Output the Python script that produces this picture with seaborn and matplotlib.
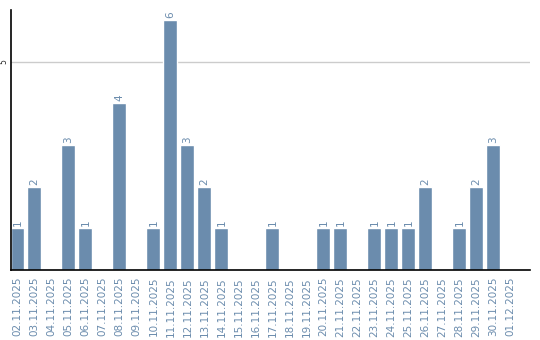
import matplotlib
matplotlib.use("Agg")
import matplotlib.pyplot as plt
import seaborn as sns
import pandas as pd

dates = ["02.11.2025", "03.11.2025", "04.11.2025", "05.11.2025", "06.11.2025",
         "07.11.2025", "08.11.2025", "09.11.2025", "10.11.2025", "11.11.2025",
         "12.11.2025", "13.11.2025", "14.11.2025", "15.11.2025", "16.11.2025",
         "17.11.2025", "18.11.2025", "19.11.2025", "20.11.2025", "21.11.2025",
         "22.11.2025", "23.11.2025", "24.11.2025", "25.11.2025", "26.11.2025",
         "27.11.2025", "28.11.2025", "29.11.2025", "30.11.2025", "01.12.2025"]
counts = [1, 2, 0, 3, 1, 0, 4, 0, 1, 6, 3, 2, 1, 0, 0,
          1, 0, 0, 1, 1, 0, 1, 1, 1, 2, 0, 1, 2, 3, 0]
y_ticks = [5]

df = pd.DataFrame({"date": dates, "count": counts})
color = "#6b8cad"

sns.set_style("white")
fig = plt.figure(figsize=(5.4, 3.4), dpi=100)
ax = fig.add_axes([10.5/540, 70/340, 519.5/540, 260/340])
sns.barplot(data=df, x="date", y="count", color=color, saturation=1, width=0.82, ax=ax)

ax.set_xlim(-0.41, 30.15)
ax.set_ylim(0, 6.24)
ax.set_yticks(y_ticks)
ax.set_yticklabels([str(v) for v in y_ticks], rotation=90, fontsize=5.5, va="center")
ax.yaxis.grid(True, color="#cccccc", linewidth=1)
ax.set_axisbelow(True)
ax.tick_params(axis="y", length=0, pad=1.5)
ax.tick_params(axis="x", length=0, pad=5, labelsize=7.5, labelcolor=color, rotation=90)
ax.set_xlabel("")
ax.set_ylabel("")

for s in ["top", "right"]:
    ax.spines[s].set_visible(False)
for s in ["left", "bottom"]:
    ax.spines[s].set_color("black")
    ax.spines[s].set_linewidth(1.2)

for i, v in enumerate(counts):
    if v > 0:
        ax.text(i, v + 0.05, str(v), rotation=90, ha="center", va="bottom",
                fontsize=7.5, color=color)

fig.savefig("out.png", dpi=100)
